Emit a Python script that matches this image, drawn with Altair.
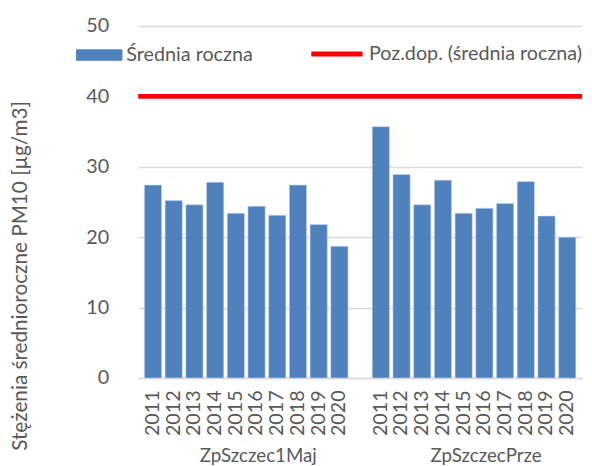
import altair as alt
import pandas as pd

years = ["2011", "2012", "2013", "2014", "2015", "2016", "2017", "2018", "2019", "2020"]
stations = ["ZpSzczec1Maj", "ZpSzczecPrze"]
values_1maj = [27.4, 25.2, 24.6, 27.8, 23.4, 24.4, 23.1, 27.4, 21.8, 18.7]
values_prze = [35.7, 28.9, 24.6, 28.1, 23.4, 24.1, 24.8, 27.9, 23.0, 20.0]
limit_value = 40
series_bar = "Średnia roczna"
series_line = "Poz.dop. (średnia roczna)"
y_title = "Stężenia średnioroczne PM10 [µg/m3]"

FONT = "Lato"
GRAY = "#595959"

rows = []
for st, vals in zip(stations, [values_1maj, values_prze]):
    for yr, v in zip(years, vals):
        rows.append({"key": f"{st}|{yr}", "value": v, "series": series_bar})
bars_df = pd.DataFrame(rows)

domain = [f"{stations[0]}|{y}" for y in years] + ["gap"] + [f"{stations[1]}|{y}" for y in years]

limit_df = pd.DataFrame({"limit": [limit_value], "series": [series_line]})
groups_df = pd.DataFrame({"station": stations, "key": [f"{s}|{years[4]}" for s in stations]})

x_scale = alt.Scale(domain=domain, paddingInner=0.17, paddingOuter=0.3)
x_axis = alt.Axis(
    title=None,
    labelExpr="datum.value == 'gap' ? '' : slice(datum.value, -4)",
    labelAngle=270,
    labelFont=FONT,
    labelFontSize=20,
    labelColor=GRAY,
    labelPadding=12,
    ticks=False,
    tickSize=0,
    domain=True,
    domainColor="#d9d9d9",
    domainWidth=1.5,
    grid=False,
)

y_scale = alt.Scale(domain=[0, 50], nice=False)
y_axis = alt.Axis(
    title=y_title,
    values=[0, 10, 20, 30, 40, 50],
    labelFont=FONT,
    labelFontSize=20,
    labelColor=GRAY,
    labelPadding=30,
    ticks=False,
    tickSize=0,
    domain=False,
    grid=True,
    gridColor="#d9d9d9",
    gridWidth=1.5,
    titleFont=FONT,
    titleFontSize=21,
    titleFontWeight="normal",
    titleColor=GRAY,
    titleAngle=270,
    titleBaseline="middle",
    titleAlign="center",
    titleX=-119,
    titleY=253,
)

bars = alt.Chart(bars_df).mark_bar(stroke="#c5d5ea", strokeWidth=0.6).encode(
    x=alt.X("key:N", scale=x_scale, axis=x_axis, sort=domain),
    y=alt.Y("value:Q", scale=y_scale, axis=y_axis),
    color=alt.Color(
        "series:N",
        scale=alt.Scale(domain=[series_bar], range=["#4f81bd"]),
        legend=alt.Legend(
            title=None,
            orient="none",
            legendX=-63,
            legendY=6,
            direction="horizontal",
            symbolType="M-1,-0.25H1V0.25H-1Z",
            symbolSize=2209,
            symbolStrokeWidth=0,
            symbolOpacity=1,
            labelFont=FONT,
            labelFontSize=20,
            labelColor=GRAY,
            labelOffset=4,
            labelLimit=400,
            padding=0,
        ),
    ),
)

limit_rule = alt.Chart(limit_df).mark_rule(strokeWidth=5).encode(
    y=alt.Y("limit:Q", scale=y_scale, axis=y_axis),
    stroke=alt.Stroke(
        "series:N",
        scale=alt.Scale(domain=[series_line], range=["#ff0000"]),
        legend=alt.Legend(
            title=None,
            orient="none",
            legendX=173,
            legendY=0,
            direction="horizontal",
            symbolType="stroke",
            symbolSize=2704,
            symbolStrokeWidth=5,
            labelFont=FONT,
            labelFontSize=20,
            labelColor=GRAY,
            labelOffset=4,
            labelLimit=400,
            padding=0,
        ),
    ),
)

group_labels = alt.Chart(groups_df).mark_text(
    font=FONT, fontSize=19, color=GRAY, align="center", baseline="middle", dx=14
).encode(
    x=alt.X("key:N", scale=x_scale, axis=x_axis, sort=domain, bandPosition=1),
    y=alt.value(436),
    text="station:N",
)

chart = alt.layer(bars, limit_rule, group_labels).properties(
    width=450,
    height=357,
    autosize=alt.AutoSizeParams(type="none"),
    padding={"left": 132, "top": 15, "right": 2, "bottom": 86},
).configure_view(stroke=None).resolve_legend(color="independent", stroke="independent")

chart.save("out.html", embed_options={"renderer": "svg", "actions": False})
